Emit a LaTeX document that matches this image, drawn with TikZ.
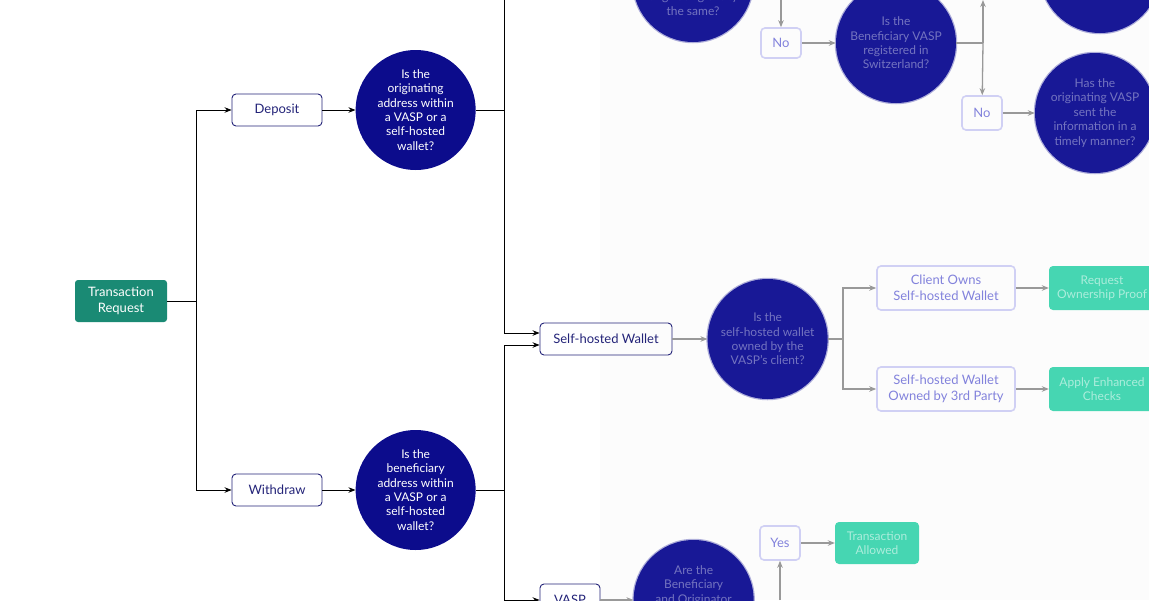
\documentclass[tikz,border=0pt]{standalone}
\usepackage{fontspec}
\setmainfont{Lato}
\usetikzlibrary{arrows.meta,positioning}

\definecolor{navyq}{RGB}{12,12,140}
\definecolor{navyb}{RGB}{35,35,120}
\definecolor{fnavy}{RGB}{24,24,150}
\definecolor{teal0}{RGB}{26,138,116}
\definecolor{mint}{RGB}{70,214,178}
\definecolor{haze}{RGB}{252,252,252}
\definecolor{lilac}{RGB}{208,208,244}
\definecolor{lilactext}{RGB}{130,130,220}

\begin{document}
\begin{tikzpicture}[
  x=1pt,y=-1pt,
  >={Stealth[length=7pt,width=5.5pt]},
  start/.style={fill=teal0,rounded corners=3pt,text=white,inner sep=0pt,
                minimum width=92pt,minimum height=42pt,align=center,
                font=\fontsize{13}{16}\selectfont},
  choice/.style={draw=navyb,line width=0.9pt,rounded corners=4pt,text=navyb,
                 inner sep=0pt,minimum width=90pt,minimum height=32pt,align=center,
                 font=\fontsize{13}{16}\selectfont},
  ask/.style={circle,fill=navyq,text=white,minimum size=120pt,inner sep=0pt,
              align=center,font=\fontsize{12}{14.4}\selectfont},
  fchoice/.style={choice,draw=lilac,text=lilactext,line width=1.6pt},
  fask/.style={ask,fill=fnavy,text=white!40!fnavy,
               preaction={draw=fnavy!35,line width=2.5pt}},
  goal/.style={fill=mint,rounded corners=4pt,text=white!55!mint,inner sep=0pt,
               minimum height=44pt,align=center,font=\fontsize{12}{14.4}\selectfont},
  flow/.style={->,line width=0.9pt},
  fline/.style={line width=1.3pt,draw=black!40},
  fflow/.style={fline,->}
]
\useasboundingbox (0,0) rectangle (1149,600);
\clip (0,0) rectangle (1149,600);

% ---- fundal estompat (dreapta) ----
\fill[haze] (600,0) rectangle (1149,600);

% ---- cererea si cele doua ramuri ----
\node[start] (req) at (121,301) {Transaction\\Request};
\node[choice] (dep) at (277,110) {Deposit};
\node[choice] (wdr) at (277,490) {Withdraw};
\node[ask,right=33pt of dep] (qorig) {Is the\\originating\\address within\\a VASP or a\\self-hosted\\wallet?};
\node[ask,right=33pt of wdr] (qbene) {Is the\\beneficiary\\address within\\a VASP or a\\self-hosted\\wallet?};

\coordinate (fork) at (196,301);
\draw[line width=0.9pt] (req) -- (fork);
\draw[flow] (fork) |- (dep);
\draw[flow] (fork) |- (wdr);
\draw[flow] (dep) -- (qorig);
\draw[flow] (wdr) -- (qbene);

% ---- magistrala verticala ----
\coordinate (bustop) at (504,0);
\coordinate (busbot) at (504,600);
\node[choice,minimum width=132pt] (shw) at (606,339) {Self-hosted Wallet};
\node[choice,minimum width=60pt] (vasp) at (570,600) {VASP};

\draw[line width=0.9pt] (qorig) -- (qorig -| bustop);
\draw[line width=0.9pt] (qbene) -- (qbene -| busbot);
\draw[flow] (bustop) |- ([yshift=6pt]shw.west);
\draw[flow] (busbot) |- ([yshift=-6pt]shw.west);
\draw[flow] (busbot |- vasp) -- (vasp);

% ---- portofel propriu ----
\node[fask,right=35pt of shw] (qown) {Is the\\self-hosted wallet\\owned by the\\VASP's client?};
\coordinate (split) at (843,339);
\node[fchoice,minimum width=138pt,minimum height=44pt] (own1) at (946,288) {Client Owns\\Self-hosted Wallet};
\node[fchoice,minimum width=138pt,minimum height=44pt] (own2) at (946,389) {Self-hosted Wallet\\Owned by 3rd Party};
\node[goal,minimum width=106pt,right=33pt of own1] (act1) {Request\\Ownership Proof};
\node[goal,minimum width=106pt,right=33pt of own2] (act2) {Apply Enhanced\\Checks};

\draw[fflow] (shw) -- (qown);
\draw[fline] (qown) -- (split);
\draw[fflow] (split) |- (own1);
\draw[fflow] (split) |- (own2);
\draw[fflow] (own1) -- (act1);
\draw[fflow] (own2) -- (act2);

% ---- ramura de sus ----
\node[fask] (qsame) at (693,-18) {Are the\\beneficiary\\and the\\originating entity\\the same?};
\node[fchoice,minimum width=40pt,minimum height=30pt] (no1) at (781,43) {No};
\node[fask,right=34pt of no1] (qswiss) {Is the\\Beneficiary VASP\\registered in\\Switzerland?};
\node[fchoice,minimum width=40pt,minimum height=34pt] (no2) at (982,113) {No};
\node[fask,right=32pt of no2] (qinfo) {Has the\\originating VASP\\sent the\\information in a\\timely manner?};
\node[fask] (qnext) at (1100,-27) {Is the\\Beneficiary VASP\\supervised?};

\coordinate (notop) at (781,0);
\coordinate (swfork) at (983,43);
\coordinate (swtop) at (983,0);
\draw[fflow] (notop) -- (no1);
\draw[fflow] (no1) -- (qswiss);
\draw[fline] (qswiss) -- (swfork);
\draw[fflow] (swfork) -- (swtop);
\draw[fflow] (swfork) -- (no2);
\draw[fflow] (no2) -- (qinfo);

% ---- ramura de jos ----
\node[fask,right=33pt of vasp] (qpair) {Are the\\Beneficiary\\and Originator\\the same\\person?};
\node[fchoice,minimum width=40pt,minimum height=34pt] (yes) at (780,543) {Yes};
\node[goal,minimum width=84pt,minimum height=42pt,right=34pt of yes] (allow) {Transaction\\Allowed};
\coordinate (yesbot) at (780,600);

\draw[fflow] (vasp) -- (qpair);
\draw[fflow] (yesbot) -- (yes);
\draw[fflow] (yes) -- (allow);

\end{tikzpicture}
\end{document}
